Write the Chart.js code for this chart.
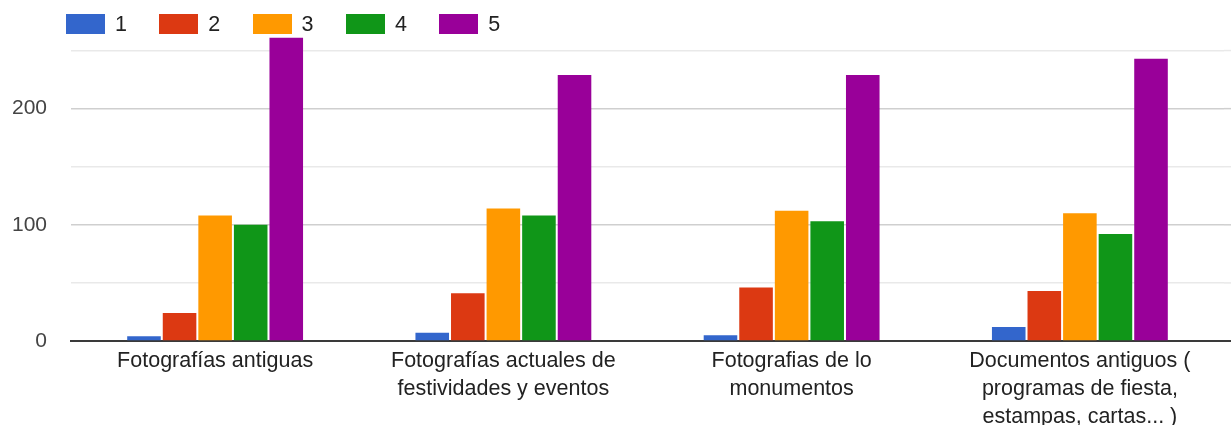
<!DOCTYPE html>
<html lang="es">
<head>
<meta charset="utf-8">
<title>Valoración por tipo de material</title>
<script src="https://cdn.jsdelivr.net/npm/chart.js@4"></script>
<style>
  html, body { margin: 0; padding: 0; background: #ffffff; }
  #wrap { position: relative; width: 1231px; height: 425px; overflow: hidden; }
  #legend {
    position: absolute; left: 66px; top: 14px; height: 20px;
    display: flex; align-items: center;
    font-family: "Liberation Sans", Arial, sans-serif; font-size: 21.5px; color: #222;
  }
  #legend .item { display: flex; align-items: center; width: 93.3px; }
  #legend .box { width: 39px; height: 20px; margin-right: 10px; }
</style>
</head>
<body>
<div id="wrap">
  <canvas id="chart" width="1231" height="425"></canvas>
  <div id="legend"></div>
</div>
<script>
// Categorías (líneas de cada etiqueta del eje X)
const categories = [
  ["Fotografías antiguas"],
  ["Fotografías actuales de", "festividades y eventos"],
  ["Fotografias de lo", "monumentos"],
  ["Documentos antiguos (", "programas de fiesta,", "estampas, cartas... )"]
];

// Respuestas por puntuación (1 a 5)
const seriesNames = ["1", "2", "3", "4", "5"];
const score1 = [4, 7, 5, 12];
const score2 = [24, 41, 46, 43];
const score3 = [108, 114, 112, 110];
const score4 = [100, 108, 103, 92];
const score5 = [261, 229, 229, 243];

// Marcas del eje Y
const yStep = 50;
const yLabelEvery = 100;
const yMax = 262;

const palette = ["#3366cc", "#dc3912", "#ff9900", "#109618", "#990099"];
const seriesValues = [score1, score2, score3, score4, score5];

const FONT = '"Liberation Sans", Arial, sans-serif';
const MAJOR_GRID = "#cfcfcf";
const MINOR_GRID = "#e9e9e9";
const AXIS_LINE = "#3a3a3a";

function gridColorFor(v) {
  if (v === 0) return "rgba(0,0,0,0)";
  return v % yLabelEvery === 0 ? MAJOR_GRID : MINOR_GRID;
}

// Carries the horizontal rules on to the right edge of the canvas
const ruleRunout = {
  id: "ruleRunout",
  beforeDatasetsDraw(chart) {
    const { ctx, chartArea, width } = chart;
    const y = chart.scales.y;
    ctx.save();
    y.ticks.forEach(t => {
      if (t.value === 0) return;
      const py = y.getPixelForValue(t.value);
      ctx.strokeStyle = gridColorFor(t.value);
      ctx.lineWidth = 1.5;
      ctx.beginPath();
      ctx.moveTo(chartArea.right, py);
      ctx.lineTo(width, py);
      ctx.stroke();
    });
    const base = y.getPixelForValue(0);
    ctx.strokeStyle = AXIS_LINE;
    ctx.lineWidth = 2;
    ctx.beginPath();
    ctx.moveTo(chartArea.right - 1, base);
    ctx.lineTo(width, base);
    ctx.stroke();
    ctx.restore();
  }
};

const datasets = seriesNames.map((name, i) => ({
  label: name,
  data: seriesValues[i],
  backgroundColor: palette[i],
  borderWidth: 0,
  categoryPercentage: 0.617,
  barPercentage: 0.944
}));

const chart = new Chart(document.getElementById("chart"), {
  type: "bar",
  data: { labels: categories, datasets },
  plugins: [ruleRunout],
  options: {
    responsive: false,
    devicePixelRatio: 1,
    animation: false,
    layout: { padding: { top: 35, right: 7, left: 0, bottom: 0 } },
    plugins: {
      legend: { display: false },
      tooltip: { enabled: false }
    },
    scales: {
      x: {
        grid: { display: false },
        border: { display: true, color: AXIS_LINE, width: 2 },
        ticks: {
          color: "#222",
          font: { family: FONT, size: 21.5, lineHeight: 1.3 },
          padding: -2,
          maxRotation: 0,
          autoSkip: false
        },
        afterFit(scale) { scale.height = 84; }
      },
      y: {
        min: 0,
        max: yMax,
        border: { display: false },
        // grid every yStep, up to the last step below the top of the axis
        afterBuildTicks(scale) {
          const ticks = [];
          for (let v = 0; v <= yMax; v += yStep) ticks.push({ value: v });
          scale.ticks = ticks;
        },
        afterFit(scale) { scale.width = 71; },
        grid: {
          drawTicks: false,
          lineWidth: 1.5,
          color(ctx) { return gridColorFor(ctx.tick ? ctx.tick.value : 0); }
        },
        ticks: {
          stepSize: yStep,
          padding: 24,
          color: "#444",
          font: { family: FONT, size: 21 },
          callback(value) { return value % yLabelEvery === 0 ? value : ""; }
        }
      }
    }
  }
});

// Leyenda con las series del gráfico
const legendEl = document.getElementById("legend");
chart.data.datasets.forEach(ds => {
  const item = document.createElement("div");
  item.className = "item";
  const box = document.createElement("span");
  box.className = "box";
  box.style.background = ds.backgroundColor;
  const txt = document.createElement("span");
  txt.textContent = ds.label;
  item.appendChild(box);
  item.appendChild(txt);
  legendEl.appendChild(item);
});
</script>
</body>
</html>
